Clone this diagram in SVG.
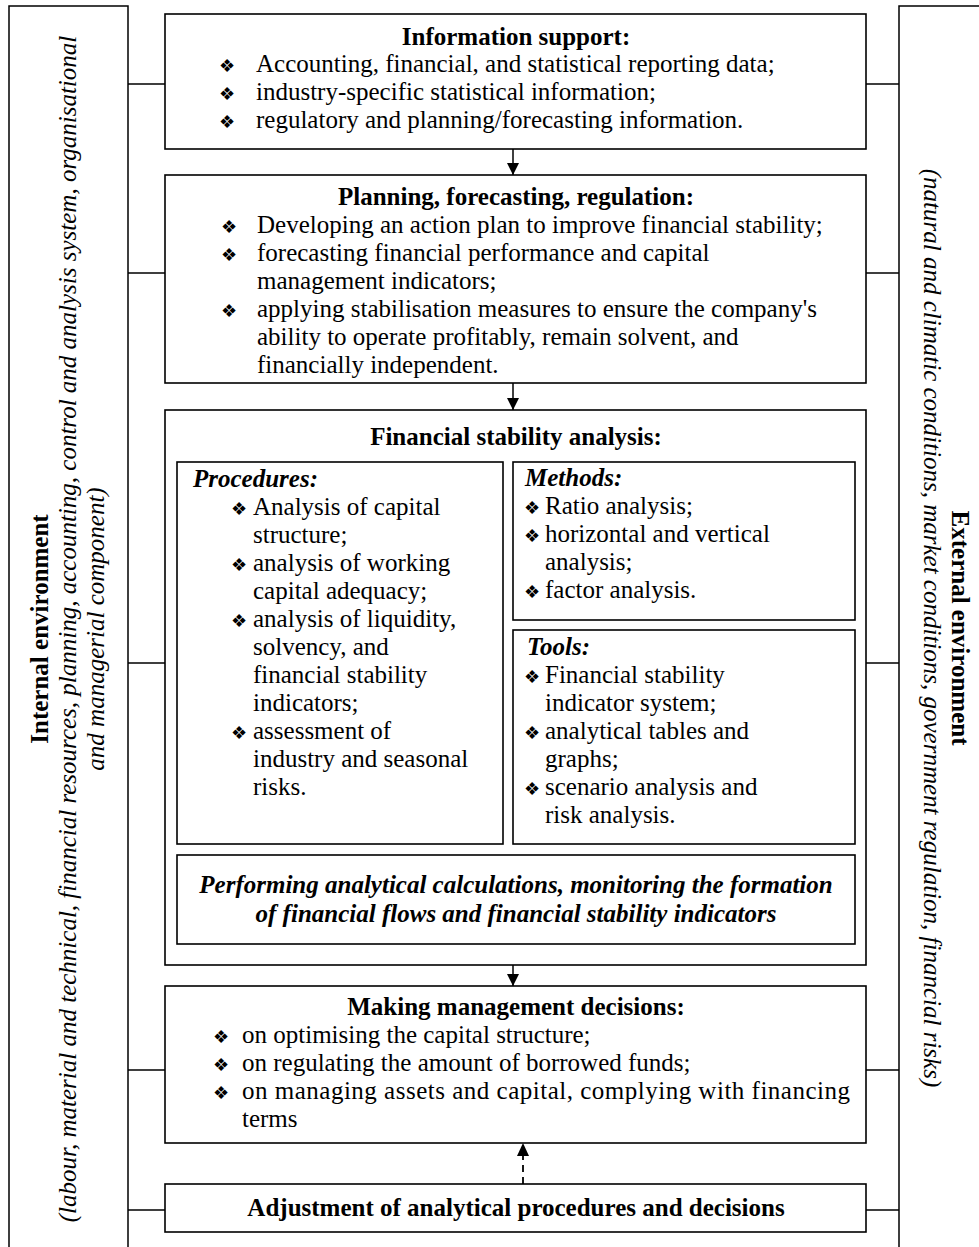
<svg xmlns="http://www.w3.org/2000/svg" width="979" height="1247" viewBox="0 0 979 1247">
  <style>
    .box { fill: #fff; stroke: #000; stroke-width: 1.6; }
    .ln { fill: none; stroke: #000; stroke-width: 1.5; }
    .dash { fill: none; stroke: #000; stroke-width: 1.8; stroke-dasharray: 7 5; }
    text { font-family: "Liberation Serif", "Times New Roman", serif; font-size: 25px; fill: #000; }
    .t { font-weight: bold; text-anchor: middle; }
    .h { font-weight: bold; font-style: italic; }
    .hc { font-weight: bold; font-style: italic; text-anchor: middle; }
    .i { font-style: italic; text-anchor: middle; }
    .bt { font-weight: bold; text-anchor: middle; }
    .b { font-family: "DejaVu Sans", sans-serif; font-size: 18px; }
  </style>
  <defs>
    <marker id="arr" viewBox="0 0 12 12" refX="12" refY="6" markerWidth="12" markerHeight="12" markerUnits="userSpaceOnUse" orient="auto">
      <path d="M0,0 L12,6 L0,12 Z" fill="#000"/>
    </marker>
  </defs>

  <!-- side panels -->
  <g id="internal-environment">
    <path class="ln" d="M9,1260 V6 H128 V1260"/>
    <text class="bt" transform="translate(48,629) rotate(-90)">Internal environment</text>
    <text class="i" transform="translate(76,629) rotate(-90)">(labour, material and technical, financial resources, planning, accounting, control and analysis system, organisational</text>
    <text class="i" transform="translate(104,629) rotate(-90)">and managerial component)</text>
  </g>
  <g id="external-environment">
    <path class="ln" d="M990,6 H899 V1260"/>
    <text class="bt" transform="translate(952,628) rotate(90)">External environment</text>
    <text class="i" transform="translate(924,628) rotate(90)">(natural and climatic conditions, market conditions, government regulation, financial risks)</text>
  </g>

  <!-- connectors -->
  <g id="connectors">
    <path class="ln" d="M128,84 H165 M128,273 H165 M128,663 H165 M128,1070 H165 M128,1210 H165"/>
    <path class="ln" d="M866,84 H899 M866,273 H899 M866,663 H899 M866,1070 H899 M866,1210 H899"/>
    <line class="ln" x1="513" y1="149" x2="513" y2="175" marker-end="url(#arr)"/>
    <line class="ln" x1="513" y1="383" x2="513" y2="410" marker-end="url(#arr)"/>
    <line class="ln" x1="513" y1="965" x2="513" y2="986" marker-end="url(#arr)"/>
    <line class="dash" x1="523" y1="1184" x2="523" y2="1155"/>
    <path d="M523,1143 L529,1156 L517,1156 Z" fill="#000"/>
  </g>

  <g id="information-support">
    <rect class="box" x="165" y="14" width="701" height="135"/>
    <text class="t" x="516" y="45">Information support:</text>
    <text class="b" x="219" y="72">❖</text><text x="256" y="72">Accounting, financial, and statistical reporting data;</text>
    <text class="b" x="219" y="100">❖</text><text x="256" y="100">industry-specific statistical information;</text>
    <text class="b" x="219" y="128">❖</text><text x="256" y="128">regulatory and planning/forecasting information.</text>
  </g>

  <g id="planning">
    <rect class="box" x="165" y="175" width="701" height="208"/>
    <text class="t" x="516" y="205">Planning, forecasting, regulation:</text>
    <text class="b" x="221" y="233">❖</text><text x="257" y="233">Developing an action plan to improve financial stability;</text>
    <text class="b" x="221" y="261">❖</text><text x="257" y="261">forecasting financial performance and capital</text>
    <text x="257" y="289">management indicators;</text>
    <text class="b" x="221" y="317">❖</text><text x="257" y="317">applying stabilisation measures to ensure the company's</text>
    <text x="257" y="345">ability to operate profitably, remain solvent, and</text>
    <text x="257" y="373">financially independent.</text>
  </g>

  <g id="financial-stability-analysis">
    <rect class="box" x="165" y="410" width="701" height="555"/>
    <text class="t" x="516" y="445">Financial stability analysis:</text>
  </g>

  <g id="procedures">
    <rect class="box" x="177" y="462" width="326" height="382"/>
    <text class="h" x="193" y="487">Procedures:</text>
    <text class="b" x="231" y="515">❖</text><text x="253" y="515">Analysis of capital</text>
    <text x="253" y="543">structure;</text>
    <text class="b" x="231" y="571">❖</text><text x="253" y="571">analysis of working</text>
    <text x="253" y="599">capital adequacy;</text>
    <text class="b" x="231" y="627">❖</text><text x="253" y="627">analysis of liquidity,</text>
    <text x="253" y="655">solvency, and</text>
    <text x="253" y="683">financial stability</text>
    <text x="253" y="711">indicators;</text>
    <text class="b" x="231" y="739">❖</text><text x="253" y="739">assessment of</text>
    <text x="253" y="767">industry and seasonal</text>
    <text x="253" y="795">risks.</text>
  </g>

  <g id="methods">
    <rect class="box" x="513" y="462" width="342" height="158"/>
    <text class="h" x="525" y="486">Methods:</text>
    <text class="b" x="524" y="514">❖</text><text x="545" y="514">Ratio analysis;</text>
    <text class="b" x="524" y="542">❖</text><text x="545" y="542">horizontal and vertical</text>
    <text x="545" y="570">analysis;</text>
    <text class="b" x="524" y="598">❖</text><text x="545" y="598">factor analysis.</text>
  </g>

  <g id="tools">
    <rect class="box" x="513" y="630" width="342" height="214"/>
    <text class="h" x="527" y="655">Tools:</text>
    <text class="b" x="524" y="683">❖</text><text x="545" y="683">Financial stability</text>
    <text x="545" y="711">indicator system;</text>
    <text class="b" x="524" y="739">❖</text><text x="545" y="739">analytical tables and</text>
    <text x="545" y="767">graphs;</text>
    <text class="b" x="524" y="795">❖</text><text x="545" y="795">scenario analysis and</text>
    <text x="545" y="823">risk analysis.</text>
  </g>

  <g id="analytical-calculations">
    <rect class="box" x="177" y="855" width="678" height="89"/>
    <text class="hc" x="516" y="893">Performing analytical calculations, monitoring the formation</text>
    <text class="hc" x="516" y="922">of financial flows and financial stability indicators</text>
  </g>

  <g id="management-decisions">
    <rect class="box" x="165" y="986" width="701" height="157"/>
    <text class="t" x="516" y="1015">Making management decisions:</text>
    <text class="b" x="213" y="1043">❖</text><text x="242" y="1043">on optimising the capital structure;</text>
    <text class="b" x="213" y="1071">❖</text><text x="242" y="1071">on regulating the amount of borrowed funds;</text>
    <text class="b" x="213" y="1099">❖</text><text x="242" y="1099" textLength="608" lengthAdjust="spacing">on managing assets and capital, complying with financing</text>
    <text x="242" y="1127">terms</text>
  </g>

  <g id="adjustment">
    <rect class="box" x="165" y="1184" width="701" height="48"/>
    <text class="t" x="516" y="1216">Adjustment of analytical procedures and decisions</text>
  </g>
</svg>
